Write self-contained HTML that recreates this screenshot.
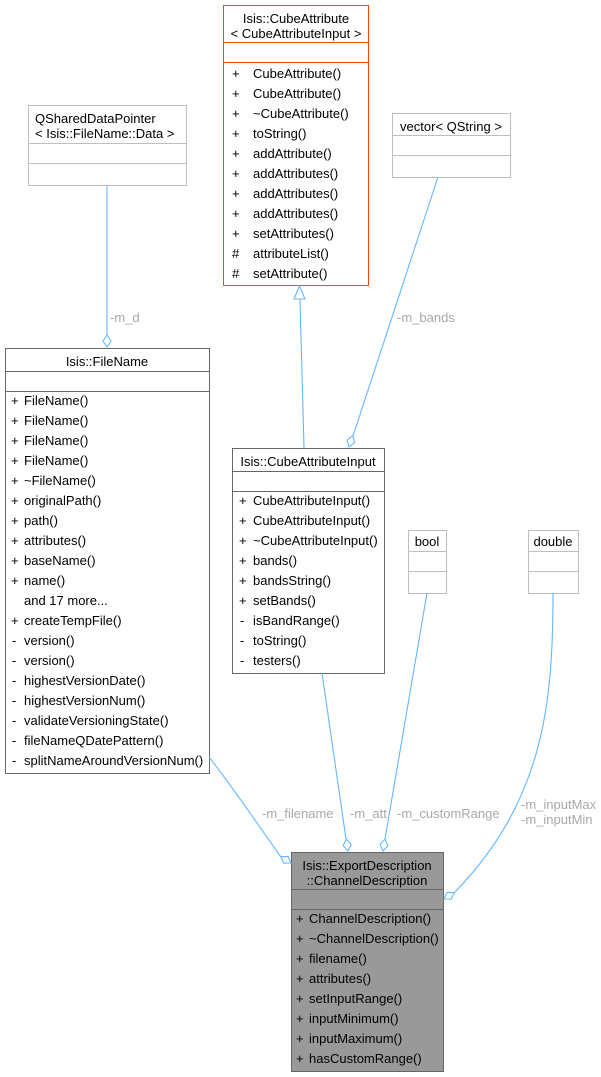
<!DOCTYPE html>
<html><head><meta charset="utf-8"><style>
html,body{margin:0;padding:0;background:#fff}
svg{display:block}
text{font-family:"Liberation Sans",Arial,sans-serif;font-size:13px;fill:#000}
.l{fill:#a8a8a8}
.e{stroke:#63b8ff;fill:none;stroke-width:1.1}
.d{stroke:#63b8ff;fill:#fff;stroke-width:1.1}
</style></head><body>
<svg width="601" height="1077" viewBox="0 0 601 1077" xmlns="http://www.w3.org/2000/svg">
<!-- CubeAttribute -->
<rect x="223.5" y="5.5" width="145" height="280" fill="#fff" stroke="#ff4500"/>
<line x1="223" y1="42.5" x2="369" y2="42.5" stroke="#ff4500"/>
<line x1="223" y1="62.5" x2="369" y2="62.5" stroke="#ff4500"/>
<text x="296" y="23" text-anchor="middle">Isis::CubeAttribute</text>
<text x="296" y="38" text-anchor="middle">&lt; CubeAttributeInput &gt;</text>
<g>
<text x="232" y="78">+</text><text x="253" y="78">CubeAttribute()</text>
<text x="232" y="98">+</text><text x="253" y="98">CubeAttribute()</text>
<text x="232" y="118">+</text><text x="253" y="118">~CubeAttribute()</text>
<text x="232" y="138">+</text><text x="253" y="138">toString()</text>
<text x="232" y="158">+</text><text x="253" y="158">addAttribute()</text>
<text x="232" y="178">+</text><text x="253" y="178">addAttributes()</text>
<text x="232" y="198">+</text><text x="253" y="198">addAttributes()</text>
<text x="232" y="218">+</text><text x="253" y="218">addAttributes()</text>
<text x="232" y="238">+</text><text x="253" y="238">setAttributes()</text>
<text x="232" y="258">#</text><text x="253" y="258">attributeList()</text>
<text x="232" y="278">#</text><text x="253" y="278">setAttribute()</text>
</g>
<!-- vector -->
<rect x="392.5" y="113.5" width="118" height="64" fill="#fff" stroke="#bfbfbf"/>
<line x1="392" y1="135.5" x2="511" y2="135.5" stroke="#bfbfbf"/>
<line x1="392" y1="155.5" x2="511" y2="155.5" stroke="#bfbfbf"/>
<text x="451" y="131" text-anchor="middle">vector&lt; QString &gt;</text>
<!-- QSharedDataPointer -->
<rect x="28.5" y="105.5" width="158" height="80" fill="#fff" stroke="#bfbfbf"/>
<line x1="28" y1="143.5" x2="187" y2="143.5" stroke="#bfbfbf"/>
<line x1="28" y1="163.5" x2="187" y2="163.5" stroke="#bfbfbf"/>
<text x="35" y="123">QSharedDataPointer</text>
<text x="35" y="138">&lt; Isis::FileName::Data &gt;</text>
<!-- FileName -->
<rect x="5.5" y="348.5" width="204" height="425" fill="#fff" stroke="#666"/>
<line x1="5" y1="371.5" x2="210" y2="371.5" stroke="#666"/>
<line x1="5" y1="391.5" x2="210" y2="391.5" stroke="#666"/>
<text x="107" y="366" text-anchor="middle">Isis::FileName</text>
<g>
<text x="11" y="405">+</text><text x="24" y="405">FileName()</text>
<text x="11" y="425">+</text><text x="24" y="425">FileName()</text>
<text x="11" y="445">+</text><text x="24" y="445">FileName()</text>
<text x="11" y="465">+</text><text x="24" y="465">FileName()</text>
<text x="11" y="485">+</text><text x="24" y="485">~FileName()</text>
<text x="11" y="505">+</text><text x="24" y="505">originalPath()</text>
<text x="11" y="525">+</text><text x="24" y="525">path()</text>
<text x="11" y="545">+</text><text x="24" y="545">attributes()</text>
<text x="11" y="565">+</text><text x="24" y="565">baseName()</text>
<text x="11" y="585">+</text><text x="24" y="585">name()</text>
<text x="24" y="605">and 17 more...</text>
<text x="11" y="625">+</text><text x="24" y="625">createTempFile()</text>
<text x="12" y="645">-</text><text x="24" y="645">version()</text>
<text x="12" y="665">-</text><text x="24" y="665">version()</text>
<text x="12" y="685">-</text><text x="24" y="685">highestVersionDate()</text>
<text x="12" y="705">-</text><text x="24" y="705">highestVersionNum()</text>
<text x="12" y="725">-</text><text x="24" y="725">validateVersioningState()</text>
<text x="12" y="745">-</text><text x="24" y="745">fileNameQDatePattern()</text>
<text x="12" y="765">-</text><text x="24" y="765">splitNameAroundVersionNum()</text>
</g>
<!-- CubeAttributeInput -->
<rect x="232.5" y="448.5" width="152" height="225" fill="#fff" stroke="#666"/>
<line x1="232" y1="471.5" x2="385" y2="471.5" stroke="#666"/>
<line x1="232" y1="491.5" x2="385" y2="491.5" stroke="#666"/>
<text x="308" y="466" text-anchor="middle">Isis::CubeAttributeInput</text>
<g>
<text x="239" y="505">+</text><text x="253" y="505">CubeAttributeInput()</text>
<text x="239" y="525">+</text><text x="253" y="525">CubeAttributeInput()</text>
<text x="239" y="545">+</text><text x="253" y="545">~CubeAttributeInput()</text>
<text x="239" y="565">+</text><text x="253" y="565">bands()</text>
<text x="239" y="585">+</text><text x="253" y="585">bandsString()</text>
<text x="239" y="605">+</text><text x="253" y="605">setBands()</text>
<text x="240" y="625">-</text><text x="253" y="625">isBandRange()</text>
<text x="240" y="645">-</text><text x="253" y="645">toString()</text>
<text x="240" y="665">-</text><text x="253" y="665">testers()</text>
</g>
<!-- bool -->
<rect x="408.5" y="530.5" width="38" height="63" fill="#fff" stroke="#bfbfbf"/>
<line x1="408" y1="551.5" x2="447" y2="551.5" stroke="#bfbfbf"/>
<line x1="408" y1="571.5" x2="447" y2="571.5" stroke="#bfbfbf"/>
<text x="427" y="546" text-anchor="middle">bool</text>
<!-- double -->
<rect x="528.5" y="530.5" width="50" height="63" fill="#fff" stroke="#bfbfbf"/>
<line x1="528" y1="551.5" x2="579" y2="551.5" stroke="#bfbfbf"/>
<line x1="528" y1="571.5" x2="579" y2="571.5" stroke="#bfbfbf"/>
<text x="553" y="546" text-anchor="middle">double</text>
<!-- ChannelDescription -->
<rect x="291.5" y="852.5" width="152" height="219" fill="#999" stroke="#666"/>
<line x1="291" y1="889.5" x2="444" y2="889.5" stroke="#666"/>
<line x1="291" y1="909.5" x2="444" y2="909.5" stroke="#666"/>
<text x="367" y="870" text-anchor="middle">Isis::ExportDescription</text>
<text x="367" y="885" text-anchor="middle">::ChannelDescription</text>
<g>
<text x="296" y="923">+</text><text x="309" y="923">ChannelDescription()</text>
<text x="296" y="943">+</text><text x="309" y="943">~ChannelDescription()</text>
<text x="296" y="963">+</text><text x="309" y="963">filename()</text>
<text x="296" y="983">+</text><text x="309" y="983">attributes()</text>
<text x="296" y="1003">+</text><text x="309" y="1003">setInputRange()</text>
<text x="296" y="1023">+</text><text x="309" y="1023">inputMinimum()</text>
<text x="296" y="1043">+</text><text x="309" y="1043">inputMaximum()</text>
<text x="296" y="1063">+</text><text x="309" y="1063">hasCustomRange()</text>
</g>
<!-- edges -->
<path class="e" d="M107,186 L107,335"/>
<g transform="translate(107,347) rotate(90)"><polygon class="d" points="0,0 -6,-4 -12,0 -6,4"/></g>
<text class="l" x="110" y="322">-m_d</text>

<path class="e" d="M304,448 L300,299"/>
<polygon class="d" points="299.5,286 294,299 305,299"/>

<path class="e" d="M438,177 L353,436"/>
<g transform="translate(349,447) rotate(108.2)"><polygon class="d" points="0,0 -6,-4 -12,0 -6,4"/></g>
<text class="l" x="397" y="322">-m_bands</text>

<path class="e" d="M209,757 C235,790 258,825 281,857"/>
<g transform="translate(291,863) rotate(32)"><polygon class="d" points="0,0 -6,-4 -12,0 -6,4"/></g>
<text class="l" x="262" y="818">-m_filename</text>

<path class="e" d="M322,673 L346,839"/>
<g transform="translate(348,851) rotate(81.7)"><polygon class="d" points="0,0 -6,-4 -12,0 -6,4"/></g>
<text class="l" x="350" y="818">-m_att</text>

<path class="e" d="M427,593 L385,839"/>
<g transform="translate(383,851) rotate(99.7)"><polygon class="d" points="0,0 -6,-4 -12,0 -6,4"/></g>
<text class="l" x="397" y="818">-m_customRange</text>

<path class="e" d="M553,593 C553,700 545,800 454,893"/>
<g transform="translate(444,899) rotate(148)"><polygon class="d" points="0,0 -6,-4 -12,0 -6,4"/></g>
<text class="l" x="521" y="809">-m_inputMax</text>
<text class="l" x="521" y="824">-m_inputMin</text>
</svg>
</body></html>
